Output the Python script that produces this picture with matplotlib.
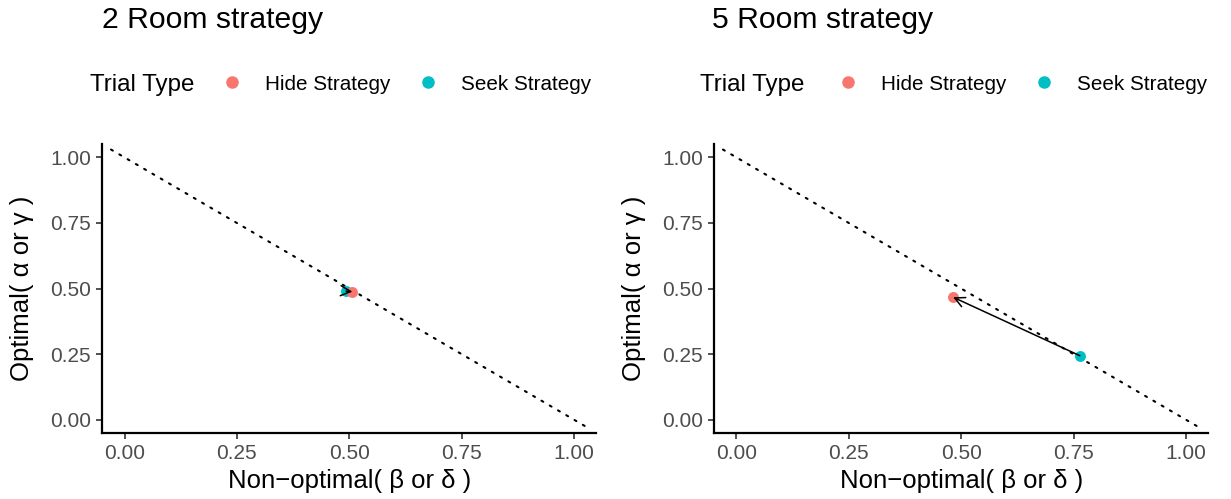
import numpy as np
import matplotlib.pyplot as plt
from matplotlib.lines import Line2D

plt.rcParams['font.family'] = ['Liberation Sans', 'DejaVu Sans']

# data
titles = ['2 Room strategy', '5 Room strategy']
hide_x = [0.507, 0.482]
hide_y = [0.488, 0.467]
seek_x = [0.493, 0.764]
seek_y = [0.490, 0.244]
diag_x = [-0.03, 1.03]
ticks = [0.00, 0.25, 0.50, 0.75, 1.00]
tick_labels = ['0.00', '0.25', '0.50', '0.75', '1.00']

red = '#F8766D'
cyan = '#00BFC4'

fig = plt.figure(figsize=(12.31, 4.99), dpi=100)
ax_pos = [[0.0829, 0.1327, 0.4016, 0.5781],
          [0.5800, 0.1327, 0.4016, 0.5781]]
legend_x = [90, 700]      # pixel x of legend title
entries_x = [222, 838]    # pixel x where legend entries start

for i in range(2):
    ax = fig.add_axes(ax_pos[i])
    dx = np.array(diag_x)
    ax.plot(dx, 1 - dx, color='black', lw=1.5, linestyle=(0, (1, 3.6)),
            dash_capstyle='round', zorder=1)
    ax.scatter(seek_x[i], seek_y[i], s=62, color=cyan, zorder=3, linewidths=0)
    ax.scatter(hide_x[i], hide_y[i], s=62, color=red, zorder=3, linewidths=0)
    ax.annotate('', xy=(hide_x[i], hide_y[i]), xytext=(seek_x[i], seek_y[i]),
                arrowprops=dict(arrowstyle='->', color='black', lw=1.1,
                                shrinkA=0, shrinkB=0, mutation_scale=18),
                zorder=4)

    ax.set_xlim(-0.05, 1.05)
    ax.set_ylim(-0.05, 1.05)
    ax.set_xticks(ticks)
    ax.set_xticklabels(tick_labels)
    ax.set_yticks(ticks)
    ax.set_yticklabels(tick_labels)
    ax.tick_params(axis='both', labelsize=15, labelcolor='#4D4D4D',
                   color='#333333', length=4.5, width=1.2, pad=3.5)
    for side in ['top', 'right']:
        ax.spines[side].set_visible(False)
    for side in ['left', 'bottom']:
        ax.spines[side].set_linewidth(1.6)
        ax.spines[side].set_color('black')

    ax.set_xlabel('Non\u2212optimal( \u03b2 or \u03b4 )', fontsize=18.5)
    ax.set_ylabel('Optimal( \u03b1 or \u03b3 )', fontsize=18.5)
    ax.xaxis.set_label_coords(0.5, -0.125)
    ax.yaxis.set_label_coords(-0.137, 0.5)

    # title and legend above the panel
    fig.text((legend_x[i] + 12) / 1231, 1 - 20 / 499, titles[i],
             fontsize=21.7, ha='left', va='center')
    fig.text(legend_x[i] / 1231, 1 - 85 / 499, 'Trial Type',
             fontsize=17.4, ha='left', va='center')
    handles = [Line2D([], [], marker='o', ls='', color=red, markersize=8),
               Line2D([], [], marker='o', ls='', color=cyan, markersize=8)]
    ax.legend(handles, ['Hide Strategy', 'Seek Strategy'], ncol=2,
              loc='center left', bbox_to_anchor=(entries_x[i] / 1231, 1 - 84 / 499),
              bbox_transform=fig.transFigure, frameon=False, fontsize=14.9,
              handlelength=1.0, handletextpad=1.1, columnspacing=1.3,
              borderpad=0, borderaxespad=0)

fig.savefig('out.png', dpi=100)
